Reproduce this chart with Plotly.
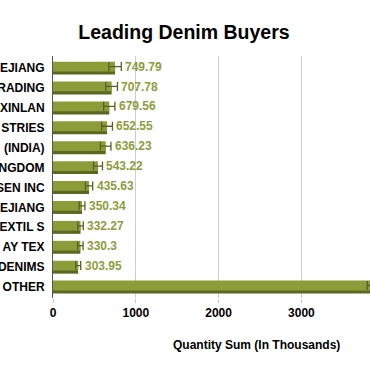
import plotly.graph_objects as go

buyers = ["EJIANG", "RADING", "XINLAN", "STRIES", "(INDIA)", "NGDOM",
          "SEN INC", "EJIANG", "EXTIL S", "AY TEX", "DENIMS", "OTHER"]
quantity = [749.79, 707.78, 679.56, 652.55, 636.23, 543.22,
            435.63, 350.34, 332.27, 330.3, 303.95, 4216.5]
labels = ["749.79", "707.78", "679.56", "652.55", "636.23", "543.22",
          "435.63", "350.34", "332.27", "330.3", "303.95", "4216.5"]
error_pct = 10
x_ticks = [0, 1000, 2000, 3000]

pos = list(range(len(buyers)))
FONT = "Liberation Sans, Arial, sans-serif"
FACE = "#8c9c38"
SHADOW = "#5b6820"
LABEL = "#8d9d3b"
ERR = "#55612a"

fig = go.Figure()
# shadow (3D effect)
fig.add_trace(go.Bar(
    y=pos, x=quantity, orientation="h", offset=-0.1, width=0.43,
    marker=dict(color=SHADOW, line=dict(width=0)), hoverinfo="skip",
    showlegend=False))
# face with error bars
fig.add_trace(go.Bar(
    y=pos, x=quantity, orientation="h", offset=-0.32, width=0.49,
    marker=dict(color=FACE, line=dict(width=0)),
    error_x=dict(type="percent", value=error_pct, color=ERR,
                 thickness=1.3, width=4.5),
    showlegend=False))

value_annotations = [
    dict(text="<b>%s</b>" % lab, x=q * (1 + error_pct / 100), y=p - 0.07,
         xref="x", yref="y", xanchor="left", yanchor="middle", xshift=2,
         showarrow=False, font=dict(family=FONT, size=12, color=LABEL))
    for lab, q, p in zip(labels, quantity, pos)
    if q * (1 + error_pct / 100) < 3828
]

fig.update_layout(
    width=370, height=371,
    margin=dict(l=53, r=0, t=56, b=73),
    paper_bgcolor="white", plot_bgcolor="white",
    barmode="overlay",
    title=dict(text="<b>Leading Denim Buyers</b>", x=184 / 370, xanchor="center",
               xref="container", yref="container", y=1 - 32 / 371,
               yanchor="middle",
               font=dict(family=FONT, size=19.5, color="black")),
    xaxis=dict(range=[0, 3828], tickvals=x_ticks,
               ticktext=[str(t) for t in x_ticks],
               showgrid=True, gridcolor="#cccccc", gridwidth=1,
               zeroline=False, showline=False,
               ticks="outside", ticklen=4, tickcolor="#cccccc",
               tickfont=dict(family=FONT, size=12, color="black", weight="bold")),
    yaxis=dict(range=[11.553, -0.604], tickvals=pos, ticktext=buyers,
               showgrid=False, zeroline=False, showline=True,
               linecolor="#555555", linewidth=1, ticks="",
               ticklabelstandoff=5, automargin=False,
               tickfont=dict(family=FONT, size=12, color="black", weight="bold")),
    annotations=value_annotations + [
        dict(text="<b>Quantity Sum (In Thousands)</b>", xref="paper",
             yref="paper", x=(256.7 - 53) / 317, y=(298 - 345) / 242,
             xanchor="center", yanchor="middle", showarrow=False,
             font=dict(family=FONT, size=12, color="black"))],
)

fig.write_html("out.html")
